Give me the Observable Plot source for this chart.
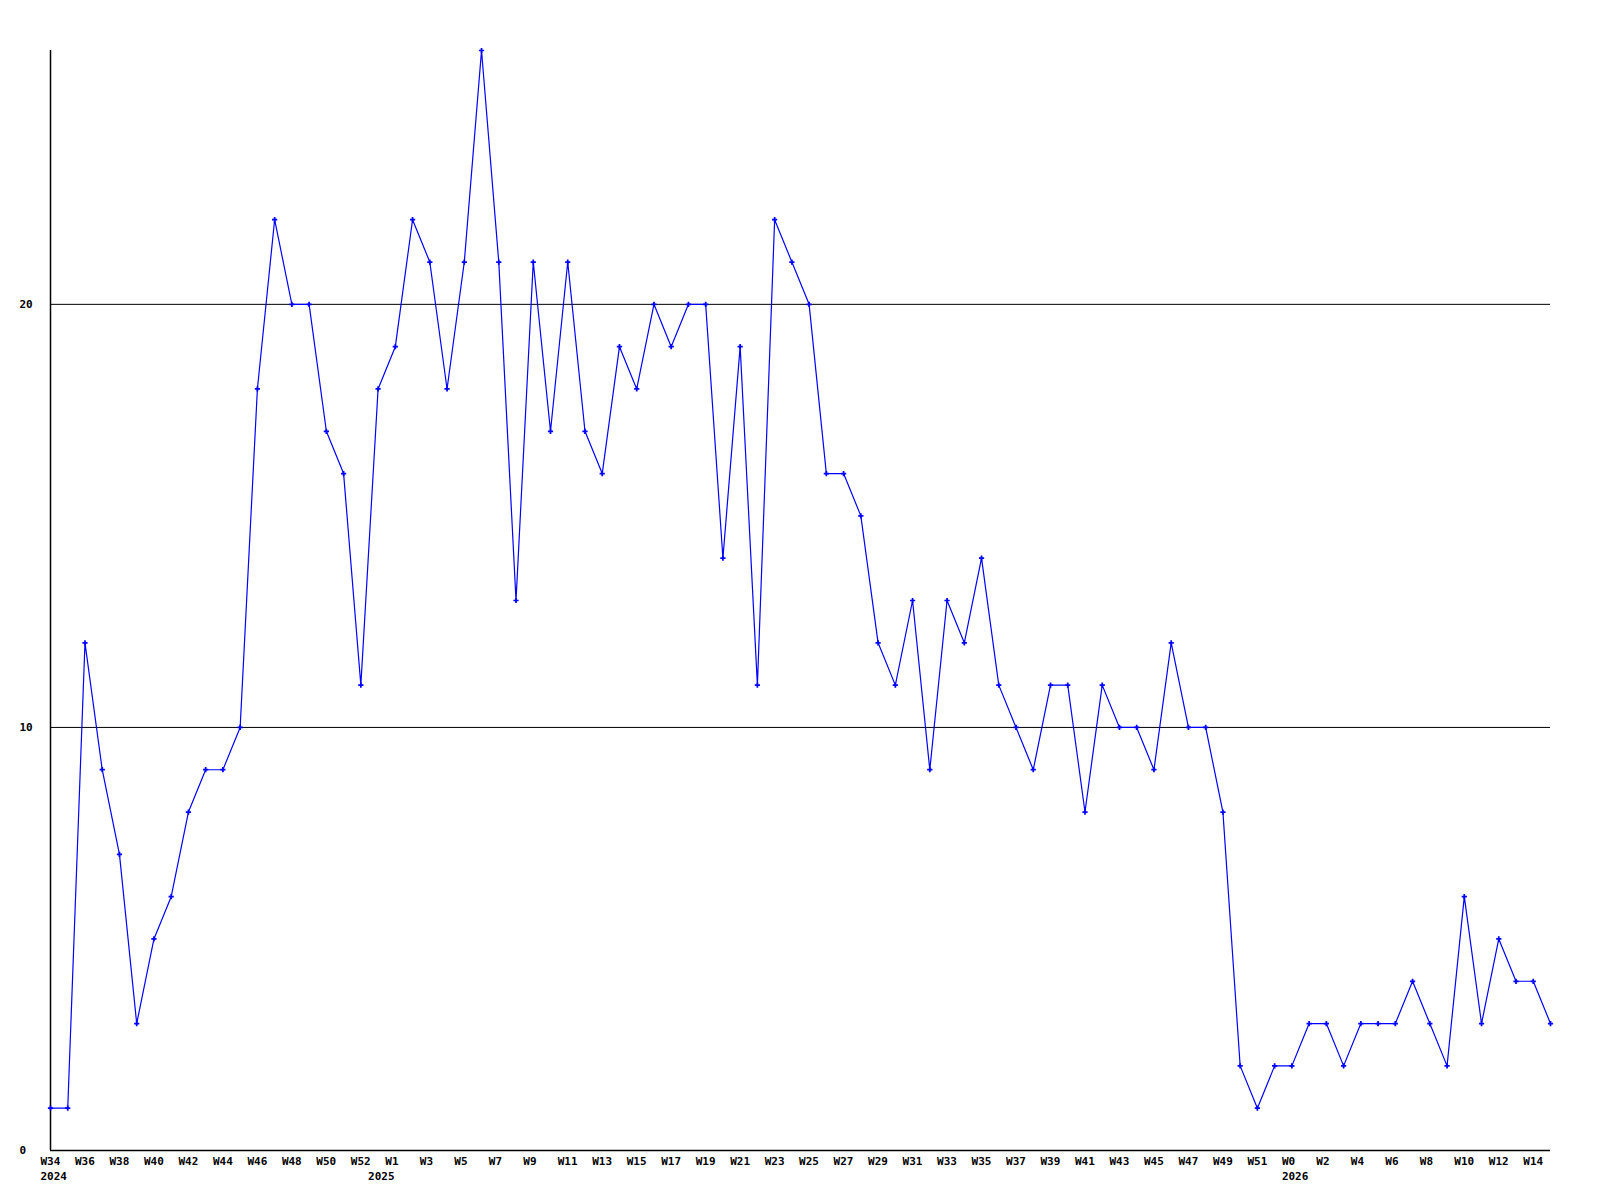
<!DOCTYPE html>
<html>
<head>
<meta charset="utf-8">
<script src="https://cdn.jsdelivr.net/npm/d3@7"></script>
<script src="https://cdn.jsdelivr.net/npm/@observablehq/plot@0.6"></script>
<style>
  html, body { margin: 0; padding: 0; background: #fff; }
  #chart svg { display: block; }
</style>
</head>
<body>
<div id="chart"></div>
<script>
const weeks = [
  "W34","W35","W36","W37","W38","W39","W40","W41","W42","W43","W44","W45","W46","W47","W48","W49","W50","W51","W52",
  "W0","W1","W2","W3","W4","W5","W6","W7","W8","W9","W10","W11","W12","W13","W14","W15","W16","W17","W18","W19","W20",
  "W21","W22","W23","W24","W25","W26","W27","W28","W29","W30","W31","W32","W33","W34","W35","W36","W37","W38","W39","W40",
  "W41","W42","W43","W44","W45","W46","W47","W48","W49","W50","W51","W52",
  "W0","W1","W2","W3","W4","W5","W6","W7","W8","W9","W10","W11","W12","W13","W14","W15"
];
const values = [
  1, 1, 12, 9, 7, 3, 5, 6, 8, 9, 9, 10, 18, 22, 20, 20, 17, 16, 11,
  18, 19, 22, 21, 18, 21, 26, 21, 13, 21, 17, 21, 17, 16, 19, 18, 20, 19, 20, 20, 14,
  19, 11, 22, 21, 20, 16, 16, 15, 12, 11, 13, 9, 13, 12, 14, 11, 10, 9, 11, 11,
  8, 11, 10, 10, 9, 12, 10, 10, 8, 2, 1, 2,
  2, 3, 3, 2, 3, 3, 3, 4, 3, 2, 6, 3, 5, 4, 4, 3
];
const yearLabels = ["2024", "2025", "2026"];
const yearIndex = [0, 19, 72];
const yTicks = [0, 10, 20];

const data = values.map((v, i) => ({i, v, w: weeks[i]}));
const weekTicks = data.filter(d => d.i % 2 === 0);
const years = yearLabels.map((y, k) => ({i: yearIndex[k], y}));

const font = "'DejaVu Sans Mono', monospace";

const chart = Plot.plot({
  width: 1600,
  height: 1200,
  marginLeft: 50,
  marginRight: 50,
  marginTop: 50,
  marginBottom: 50,
  style: {fontFamily: font, fontSize: "11px", fontWeight: "bold", background: "#fff", color: "#000"},
  x: {type: "linear", domain: [0, values.length - 1], axis: null},
  y: {domain: [0, 26], axis: null},
  marks: [
    Plot.ruleY([10, 20], {stroke: "#000", strokeWidth: 1}),
    Plot.ruleY([0], {stroke: "#000", strokeWidth: 1.5}),
    Plot.ruleX([0], {stroke: "#000", strokeWidth: 1.5}),
    Plot.text(yTicks, {y: d => d, text: d => String(d), frameAnchor: "left", textAnchor: "start", dx: -31, fill: "#000", fontWeight: "bold", fontSize: 11}),
    Plot.text(weekTicks, {x: "i", text: "w", frameAnchor: "bottom", textAnchor: "start", dx: -10, dy: 14.5, fill: "#000", fontWeight: "bold", fontSize: 11}),
    Plot.text(years, {x: "i", text: "y", frameAnchor: "bottom", textAnchor: "start", dx: -10, dy: 29.5, fill: "#000", fontWeight: "bold", fontSize: 11}),
    Plot.line(data, {x: "i", y: "v", stroke: "#0000ff", strokeWidth: 1.2}),
    Plot.dot(data, {x: "i", y: "v", symbol: "cross", r: 2.2, fill: "#0000ff", stroke: "none"})
  ]
});
document.getElementById("chart").appendChild(chart);
</script>
</body>
</html>
